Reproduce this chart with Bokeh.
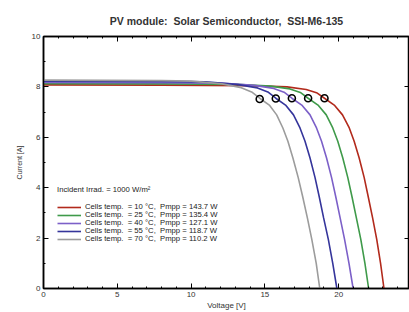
from bokeh.plotting import figure
from bokeh.models import Range1d, LinearAxis, Legend, LegendItem, FixedTicker, CustomLabelingPolicy
from bokeh.embed import file_html
from bokeh.resources import INLINE

# ---- data ----
temps = [10, 25, 40, 55, 70]
pmpp = [143.7, 135.4, 127.1, 118.7, 110.2]
colors = ["#b22a1c", "#3f9a4a", "#7c60c8", "#35359b", "#9c9c9c"]

v_10 = [0, 8, 14, 16.5, 17.8, 18.5, 19.04, 19.7, 20.26, 20.72, 21.05, 21.39, 21.73, 22.0, 22.3, 22.58, 22.84, 23.07]
i_10 = [8.08, 8.07, 8.05, 8.0, 7.9, 7.77, 7.55, 7.28, 6.89, 6.37, 5.84, 5.18, 4.40, 3.65, 2.80, 1.95, 1.0, 0]

v_25 = [0, 8, 13, 15.4, 16.7, 17.4, 17.93, 18.6, 19.16, 19.6, 19.94, 20.28, 20.62, 20.9, 21.2, 21.5, 21.78, 22.03]
i_25 = [8.13, 8.12, 8.1, 8.03, 7.92, 7.78, 7.55, 7.28, 6.89, 6.37, 5.84, 5.18, 4.40, 3.65, 2.80, 1.95, 1.0, 0]

v_40 = [0, 8, 12, 14.3, 15.6, 16.3, 16.83, 17.5, 18.06, 18.5, 18.84, 19.18, 19.52, 19.8, 20.1, 20.4, 20.7, 20.98]
i_40 = [8.18, 8.17, 8.15, 8.06, 7.94, 7.79, 7.55, 7.28, 6.89, 6.37, 5.84, 5.18, 4.40, 3.65, 2.80, 1.95, 1.0, 0]

v_55 = [0, 8, 11, 13.2, 14.5, 15.2, 15.74, 16.4, 16.94, 17.38, 17.72, 18.06, 18.4, 18.68, 18.98, 19.3, 19.6, 19.88]
i_55 = [8.23, 8.22, 8.2, 8.09, 7.96, 7.8, 7.55, 7.28, 6.89, 6.37, 5.84, 5.18, 4.40, 3.65, 2.80, 1.95, 1.0, 0]

v_70 = [0, 8, 10, 12.1, 13.4, 14.1, 14.65, 15.3, 15.8, 16.22, 16.56, 16.9, 17.26, 17.56, 17.88, 18.18, 18.48, 18.72]
i_70 = [8.27, 8.25, 8.23, 8.12, 7.97, 7.8, 7.55, 7.28, 6.89, 6.37, 5.84, 5.18, 4.40, 3.65, 2.80, 1.95, 1.0, 0]

mpp_v = [19.04, 17.93, 16.83, 15.74, 14.65]
mpp_i = [7.55, 7.55, 7.55, 7.54, 7.52]

x_ticks = [0, 5, 10, 15, 20, 25]
y_ticks = [0, 2, 4, 6, 8, 10]

curves_v = [v_10, v_25, v_40, v_55, v_70]
curves_i = [i_10, i_25, i_40, i_55, i_70]

FONT = "Liberation Sans"
NB = "\u00a0"

p = figure(width=409, height=312, x_range=Range1d(0, 24.8), y_range=Range1d(0, 10),
           output_backend="svg", toolbar_location=None,
           min_border_left=43, min_border_right=0, min_border_top=36, min_border_bottom=22,
           title=f"PV module:{NB} Solar Semiconductor,{NB} SSI-M6-135")
p.title.text_font = FONT
p.title.text_font_size = "10.5px"
p.title.text_font_style = "bold"
p.title.text_color = "#333333"
p.title.align = "center"
p.title.offset = -11
p.title.standoff = 20
p.grid.visible = False
p.outline_line_color = "black"
p.outline_line_width = 1.5
p.background_fill_color = "white"
p.border_fill_color = "white"

xt = FixedTicker(ticks=x_ticks, minor_ticks=list(range(0, 26)))
yt = FixedTicker(ticks=y_ticks, minor_ticks=list(range(0, 11)))

p.xaxis.ticker = xt
p.yaxis.ticker = yt
p.xaxis.axis_label = "Voltage [V]"
p.yaxis.axis_label = "Current [A]"

hide_all = CustomLabelingPolicy(code="""
const all = [...indices]
for (const i of all) { indices.unset(i) }
return indices
""")

def style_axis(ax, labels=True):
    ax.axis_line_width = 1.5
    ax.axis_line_color = "black"
    ax.major_tick_in = 5
    ax.major_tick_out = 0
    ax.minor_tick_in = 2
    ax.minor_tick_out = 0
    ax.major_tick_line_color = "black"
    ax.minor_tick_line_color = "black"
    ax.major_label_text_font = FONT
    ax.major_label_text_color = "#333333"
    ax.axis_label_text_font = FONT
    ax.axis_label_text_font_style = "normal"
    ax.axis_label_text_color = "#333333"
    if labels:
        ax.major_label_text_font_size = "8px"
        ax.major_label_standoff = 3
    else:
        ax.major_label_text_font_size = "0px"
        ax.major_label_policy = hide_all
        ax.major_label_standoff = 0

for ax in p.xaxis:
    style_axis(ax)
    ax.axis_label_text_font_size = "8px"
    ax.axis_label_standoff = 1
for ax in p.yaxis:
    style_axis(ax)
    ax.axis_label_text_font_size = "7px"
    ax.axis_label_standoff = 6

top = LinearAxis(ticker=xt)
style_axis(top, labels=False)
p.add_layout(top, "above")
right = LinearAxis(ticker=yt)
style_axis(right, labels=False)
right.minor_tick_in = 0
p.add_layout(right, "right")

renderers = []
for k in range(5):
    r = p.line(curves_v[k], curves_i[k], line_color=colors[k], line_width=1.6)
    renderers.append(r)

p.scatter(mpp_v, mpp_i, marker="circle", size=7, fill_color=None,
          line_color="black", line_width=1.6)

# one legend per entry so that the rows can sit as tightly as in the reference
ROW = 8
for k in range(5):
    label = f"Cells temp.{NB} = {temps[k]} \u00b0C,{NB} Pmpp = {pmpp[k]} W"
    kw = dict(items=[LegendItem(label=label, renderers=[renderers[k]])],
              location=(14, 45 + (4 - k) * ROW),
              label_text_font=FONT, label_text_font_size="7.7px",
              label_text_color="#222222",
              background_fill_alpha=0, border_line_alpha=0,
              spacing=0, padding=0, margin=0,
              glyph_width=24, glyph_height=6, label_height=6,
              label_standoff=4)
    if k == 0:
        kw.update(title="Incident Irrad. = 1000 W/m\u00b2",
                  title_text_font=FONT, title_text_font_size="7.7px",
                  title_text_font_style="normal", title_text_color="#222222",
                  title_standoff=8)
    p.add_layout(Legend(**kw))

open("out.html", "w").write(file_html(p, INLINE))
